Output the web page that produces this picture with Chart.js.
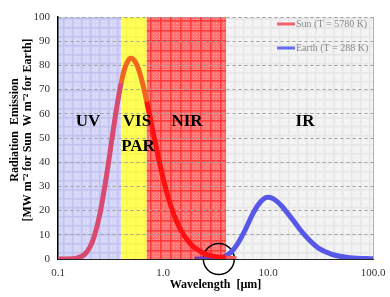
<!DOCTYPE html>
<html>
<head>
<meta charset="utf-8">
<script src="https://cdn.jsdelivr.net/npm/chart.js@4.4.0/dist/chart.umd.min.js"></script>
<style>
  html, body { margin: 0; padding: 0; background: #fff; }
  #wrap { width: 390px; height: 297px; }
</style>
</head>
<body>
<div id="wrap"><canvas id="chart" width="390" height="297"></canvas></div>
<script>
// wavelength in micrometres
var sunWl = [0.1, 0.12, 0.15, 0.18, 0.2, 0.22, 0.25, 0.28, 0.3, 0.33, 0.35, 0.38, 0.4, 0.43, 0.45, 0.48, 0.5,
    0.53, 0.56, 0.6, 0.65, 0.7, 0.75, 0.8, 0.9, 1.0, 1.1, 1.2, 1.35, 1.5, 1.75, 2.0, 2.5, 3.0, 3.5, 4.0, 4.5, 5.0];
var sunVal = [0, 0.02, 0.3, 2.0, 4.7, 9.0, 18.4, 30.4, 38.8, 51, 58.5, 67.8, 72.8, 78.5, 80.7, 82.7, 83,
    82.2, 80.5, 77, 71.3, 65, 58.9, 53, 42.3, 33.6, 26.6, 21.4, 15.5, 11.5, 7.2, 4.7, 2.2, 1.2, 0.7, 0.4, 0.25, 0.18];

var earthWl = [2, 2.5, 3, 3.5, 4, 4.5, 5, 6, 7, 8, 9, 10, 11, 12, 13.5, 15, 17.5, 20, 25, 30, 40, 50, 60, 70, 85, 100];
var earthVal = [0, 0.01, 0.09, 0.45, 1.4, 3.05, 5.5, 11.6, 17.8, 22.2, 24.7, 25.5, 25.1, 24.0, 21.9, 19.5, 15.8,
    12.4, 7.6, 4.6, 2.0, 1.0, 0.55, 0.32, 0.16, 0.08];

var bandNames = ['UV', 'VIS', 'NIR', 'IR'];
var bandEdges = [0.1, 0.4, 0.7, 4, 100];
var xTicks = [0.1, 1, 10, 100];
var circleAt = [{x: 3.4, y: 0}];

function makePattern(size, base, line, dot) {
    var c = document.createElement('canvas');
    c.width = size; c.height = size;
    var g = c.getContext('2d');
    g.fillStyle = base;
    g.fillRect(0, 0, size, size);
    g.fillStyle = line;
    g.fillRect(0, 0, size, 1.5);
    g.fillRect(0, 0, 1.5, size);
    if (dot) {
        g.fillStyle = dot;
        for (var i = 3; i < size; i += 3) {
            for (var j = 3; j < size; j += 3) {
                g.fillRect(i, j, 1, 1);
            }
        }
    }
    return g.createPattern(c, 'repeat');
}

var ctx = document.getElementById('chart').getContext('2d');
var bandFills = [
    makePattern(9, '#d5d5f7', '#c2c2f0', '#e4e4fa'),
    makePattern(9, '#ffff58', '#f6f64e', null),
    makePattern(10, '#ff7272', '#ff3838', '#ffa0a0'),
    makePattern(9, '#f2f2f2', '#e6e6e6', '#f9f9f9')
];

function sunColor(x) {
    if (x < 0.4) return '#d84a70';
    if (x < 0.7) return '#f2651e';
    if (x < 4) return '#ff1010';
    return '#f05a5a';
}

var bandsPlugin = {
    id: 'bands',
    beforeDraw: function (chart) {
        var c = chart.ctx, a = chart.chartArea, xs = chart.scales.x;
        c.save();
        for (var i = 0; i < bandNames.length; i++) {
            var x0 = xs.getPixelForValue(bandEdges[i]);
            var x1 = xs.getPixelForValue(bandEdges[i + 1]);
            c.fillStyle = bandFills[i];
            c.fillRect(x0, a.top, x1 - x0, a.bottom - a.top + 1);
        }
        c.restore();
    },
    afterDatasetsDraw: function (chart) {
        var c = chart.ctx, a = chart.chartArea;
        c.save();
        // right frame line
        c.strokeStyle = '#b0b0b0';
        c.lineWidth = 1;
        c.beginPath();
        c.moveTo(a.right + 0.5, a.top);
        c.lineTo(a.right + 0.5, a.bottom);
        c.stroke();

        // band labels
        c.fillStyle = '#000';
        c.font = 'bold 17px "Liberation Serif"';
        c.textAlign = 'center';
        c.textBaseline = 'middle';
        c.fillText('UV', 88, 122);
        c.fillText('VIS', 137, 122);
        c.fillText('PAR', 138, 147);
        c.fillText('NIR', 187, 122);
        c.fillText('IR', 305, 122);

        // legend
        c.font = '10px "Liberation Serif"';
        c.textAlign = 'left';
        c.fillStyle = '#8a8a8a';
        c.lineWidth = 3;
        c.strokeStyle = '#f06070';
        c.beginPath(); c.moveTo(277, 24); c.lineTo(295, 24); c.stroke();
        c.fillText('Sun (T = 5780 K)', 296, 24);
        c.strokeStyle = '#6a6af0';
        c.beginPath(); c.moveTo(277, 48); c.lineTo(295, 48); c.stroke();
        c.fillText('Earth (T = 288 K)', 296, 48);

        // axis titles
        c.fillStyle = '#000';
        c.font = 'bold 12px "Liberation Serif"';
        c.textAlign = 'center';
        c.fillText('Wavelength  [\u00b5m]', (a.left + a.right) / 2, 285);
        c.translate(15, 130);
        c.rotate(-Math.PI / 2);
        c.fillText('Radiation  Emission', 0, 0);
        c.fillText('[MW m\u207b\u00b2 for Sun  W m\u207b\u00b2 for Earth]', 0, 13);
        c.restore();
    }
};

var chart = new Chart(ctx, {
    type: 'line',
    data: {
        datasets: [{
            label: 'Sun (T = 5780 K)',
            data: sunWl.map(function (w, i) { return {x: w, y: sunVal[i]}; }),
            borderColor: '#ff1010',
            borderWidth: 5,
            pointRadius: 0,
            cubicInterpolationMode: 'monotone',
            segment: {
                borderColor: function (s) { return sunColor(s.p0.parsed.x); }
            }
        }, {
            label: 'Earth (T = 288 K)',
            data: earthWl.map(function (w, i) { return {x: w, y: earthVal[i]}; }),
            borderColor: '#5858e8',
            borderWidth: 5,
            pointRadius: 0,
            cubicInterpolationMode: 'monotone',
            segment: {
                borderColor: function (s) { return s.p0.parsed.x < 4 ? '#7a3cb0' : '#5858e8'; }
            }
        }, {
            type: 'scatter',
            label: 'circle',
            data: circleAt,
            pointRadius: 15.5,
            pointHoverRadius: 15.5,
            pointBorderWidth: 1.5,
            borderColor: '#000',
            backgroundColor: 'rgba(0,0,0,0)',
            clip: false
        }]
    },
    options: {
        responsive: false,
        animation: false,
        events: [],
        layout: { padding: { left: 0, top: 11, right: 13, bottom: 0 } },
        plugins: { legend: { display: false }, tooltip: { enabled: false } },
        scales: {
            x: {
                type: 'logarithmic',
                min: 0.1,
                max: 100,
                afterFit: function (s) { s.height = 38; s.paddingLeft = 0; s.paddingRight = 0; },
                afterBuildTicks: function (s) { s.ticks = xTicks.map(function (v) { return {value: v}; }); },
                grid: { display: false, drawTicks: false },
                border: { display: true, color: '#222', width: 1 },
                ticks: {
                    autoSkip: false,
                    maxRotation: 0,
                    padding: 8,
                    color: '#333',
                    font: { family: 'Liberation Serif', size: 11 },
                    callback: function (v) { return Number(v).toFixed(1); }
                }
            },
            y: {
                min: 0,
                max: 100,
                afterFit: function (s) { s.width = 58; s.paddingTop = 0; s.paddingBottom = 0; },
                grid: { color: '#a0a0a0', lineWidth: 1, drawTicks: false },
                border: { display: true, color: '#000', width: 1.5, dash: [3, 3] },
                ticks: {
                    stepSize: 10,
                    padding: 8,
                    color: '#333',
                    font: { family: 'Liberation Serif', size: 11 }
                }
            }
        }
    },
    plugins: [bandsPlugin]
});
</script>
</body>
</html>
